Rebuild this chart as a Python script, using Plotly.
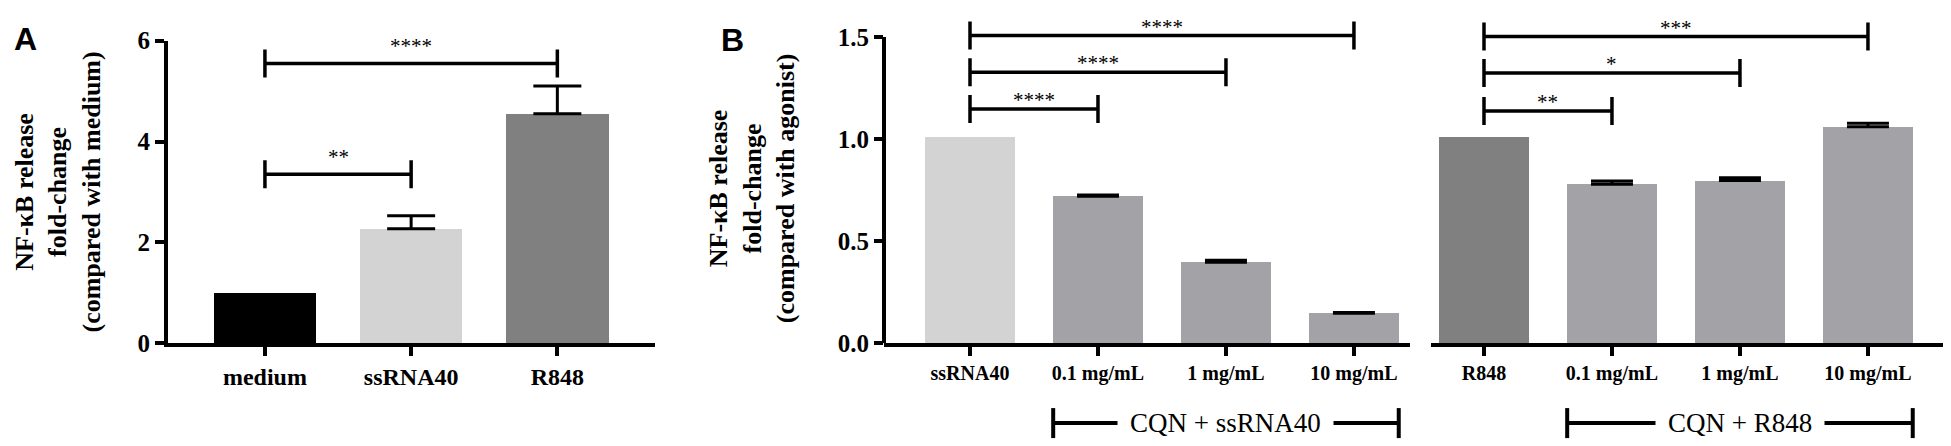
import plotly.graph_objects as go

W, H = 1951, 446

# Panel A
cats_a = ["medium", "ssRNA40", "R848"]
mean_a = [1.0, 2.27, 4.55]
err_a = [None, 0.26, 0.55]
colors_a = ["#000000", "#D3D3D3", "#808080"]

# Panel B (left: ssRNA40 group, right: R848 group)
cats_b1 = ["ssRNA40", "0.1 mg/mL", "1 mg/mL", "10 mg/mL"]
mean_b1 = [1.01, 0.72, 0.397, 0.147]
err_b1 = [None, 0.006, 0.01, 0.003]
colors_b1 = ["#D3D3D3", "#A3A3A7", "#A3A3A7", "#A3A3A7"]

cats_b2 = ["R848", "0.1 mg/mL", "1 mg/mL", "10 mg/mL"]
mean_b2 = [1.01, 0.779, 0.797, 1.06]
err_b2 = [None, 0.015, 0.014, 0.018]
colors_b2 = ["#808080", "#A3A3A7", "#A3A3A7", "#A3A3A7"]

# significance brackets: (from index, to index, level, label)
sig_a = [(0, 1, 3.35, "**"), (0, 2, 5.55, "****")]
sig_b1 = [(0, 1, 1.147, "****"), (0, 2, 1.327, "****"), (0, 3, 1.507, "****")]
sig_b2 = [(0, 1, 1.138, "**"), (0, 2, 1.323, "*"), (0, 3, 1.502, "***")]

# group labels under panel B: (from index, to index, text)
group_b1 = (1, 3, "CQN + ssRNA40")
group_b2 = (1, 3, "CQN + R848")

SERIF = "Liberation Serif"

# y axis of panel B: 0..1.5 drawn, a little headroom above for the brackets
B_TOP = 1.5
B_HEAD = 1.5 * 343 / 326


def px(p):
    return p / W


def py(p):
    return 1 - p / H


fig = go.Figure()


def add_bars(xa, ya, cats, vals, errs, cols, capw):
    xs = list(range(len(cats)))
    fig.add_trace(go.Bar(
        x=xs, y=vals,
        marker=dict(color=cols, line=dict(width=0)),
        width=0.7,
        xaxis=xa, yaxis=ya, showlegend=False, hoverinfo="skip"
    ))
    # error bars only where there is an SEM
    ex = [x for x, e in zip(xs, errs) if e is not None]
    ey = [v for v, e in zip(vals, errs) if e is not None]
    ee = [e for e in errs if e is not None]
    fig.add_trace(go.Scatter(
        x=ex, y=ey, mode="markers",
        marker=dict(size=1, color="rgba(0,0,0,0)"),
        error_y=dict(type="data", array=ee, arrayminus=[0] * len(ee),
                     symmetric=False, color="black", thickness=3, width=capw),
        xaxis=xa, yaxis=ya, showlegend=False, hoverinfo="skip"
    ))


add_bars("x", "y", cats_a, mean_a, err_a, colors_a, 24)
add_bars("x2", "y2", cats_b1, mean_b1, err_b1, colors_b1, 21)
add_bars("x3", "y3", cats_b2, mean_b2, err_b2, colors_b2, 21)

shapes = []
annotations = []

# left axis line of panel B stops at 1.5
shapes.append(dict(type="line", xref="x2 domain", yref="y2", x0=0, x1=0, y0=0, y1=B_TOP,
                   line=dict(color="black", width=4)))


def add_sig(xref, yref, sigs, shift):
    for i0, i1, lvl, lab in sigs:
        shapes.append(dict(type="line", xref=xref, yref=yref, x0=i0, x1=i1, y0=lvl, y1=lvl,
                           line=dict(color="black", width=3.5)))
        for xe in (i0, i1):
            shapes.append(dict(type="line", xref=xref, yref=yref, x0=xe, x1=xe,
                               ysizemode="pixel", yanchor=lvl, y0=-14, y1=14,
                               line=dict(color="black", width=3.5)))
        annotations.append(dict(xref=xref, yref=yref, x=(i0 + i1) / 2, y=lvl, text=lab,
                                showarrow=False, yanchor="bottom", yshift=shift,
                                font=dict(family=SERIF, size=21, color="black")))


add_sig("x", "y", sig_a, 3)
add_sig("x2", "y2", sig_b1, -5)
add_sig("x3", "y3", sig_b2, -5)


def add_group(xref, grp):
    i0, i1, lab = grp
    y = py(428)
    shapes.append(dict(type="line", xref=xref, yref="paper", x0=i0 - 0.35, x1=i1 + 0.35,
                       y0=y, y1=y, line=dict(color="black", width=4)))
    for xe in (i0 - 0.35, i1 + 0.35):
        shapes.append(dict(type="line", xref=xref, yref="paper", x0=xe, x1=xe,
                           ysizemode="pixel", yanchor=y, y0=-15, y1=15,
                           line=dict(color="black", width=4)))
    annotations.append(dict(xref=xref, yref="paper", x=(i0 + i1) / 2, y=y, text=lab,
                            showarrow=False, yanchor="middle", bgcolor="white", borderpad=12,
                            font=dict(family=SERIF, size=27, color="black")))


add_group("x2", group_b1)
add_group("x3", group_b2)

# panel letters
annotations.append(dict(xref="paper", yref="paper", x=px(17), y=py(19), text="<b>A</b>",
                        showarrow=False, xanchor="center", yanchor="middle",
                        font=dict(family="Liberation Sans", size=32, color="black")))
annotations.append(dict(xref="paper", yref="paper", x=px(724), y=py(20), text="<b>B</b>",
                        showarrow=False, xanchor="center", yanchor="middle",
                        font=dict(family="Liberation Sans", size=32, color="black")))

# y titles
annotations.append(dict(xref="paper", yref="paper", x=0, y=py(182), textangle=-90,
                        text="<b>NF-κB release<br>fold-change<br>(compared with medium)</b>",
                        showarrow=False, xanchor="left", yanchor="middle",
                        font=dict(family=SERIF, size=26, color="black")))
annotations.append(dict(xref="paper", yref="paper", x=px(744), y=py(178), textangle=-90,
                        text="<b>NF-κB release<br>fold-change<br>(compared with agonist)</b>",
                        showarrow=False, xanchor="center", yanchor="middle",
                        font=dict(family=SERIF, size=26, color="black")))

axis_common = dict(linecolor="black", linewidth=4, ticks="outside",
                   ticklen=9, tickwidth=4, tickcolor="black", showgrid=False, zeroline=False,
                   fixedrange=True)

fig.update_layout(
    width=W, height=H,
    margin=dict(l=0, r=0, t=0, b=0),
    paper_bgcolor="white", plot_bgcolor="white",
    showlegend=False,
    bargap=0,
    xaxis=dict(domain=[px(160), px(647)], range=[-0.663, 2.668], anchor="y", showline=True,
               tickvals=list(range(len(cats_a))), ticktext=cats_a,
               tickfont=dict(family=SERIF, size=24, color="black", weight="bold"),
               **axis_common),
    yaxis=dict(domain=[py(343), py(21)], range=[0, 6], anchor="x", showline=True,
               tickvals=[0, 2, 4, 6],
               tickfont=dict(family=SERIF, size=25, color="black", weight="bold"),
               **axis_common),
    xaxis2=dict(domain=[px(876), px(1402)], range=[-0.672, 3.438], anchor="y2", showline=True,
                tickvals=list(range(len(cats_b1))), ticktext=cats_b1,
                tickfont=dict(family=SERIF, size=20, color="black", weight="bold"),
                **axis_common),
    yaxis2=dict(domain=[py(343), 1], range=[0, B_HEAD], anchor="x2", showline=False,
                tickvals=[0, 0.5, 1.0, 1.5], tickformat=".1f",
                tickfont=dict(family=SERIF, size=25, color="black", weight="bold"),
                **axis_common),
    xaxis3=dict(domain=[px(1423), px(1948)], range=[-0.414, 3.688], anchor="y3", showline=True,
                tickvals=list(range(len(cats_b2))), ticktext=cats_b2,
                tickfont=dict(family=SERIF, size=20, color="black", weight="bold"),
                **axis_common),
    yaxis3=dict(domain=[py(343), 1], range=[0, B_HEAD], anchor="x3",
                visible=False, fixedrange=True),
    shapes=shapes,
    annotations=annotations,
)

fig.write_html("out.html")
